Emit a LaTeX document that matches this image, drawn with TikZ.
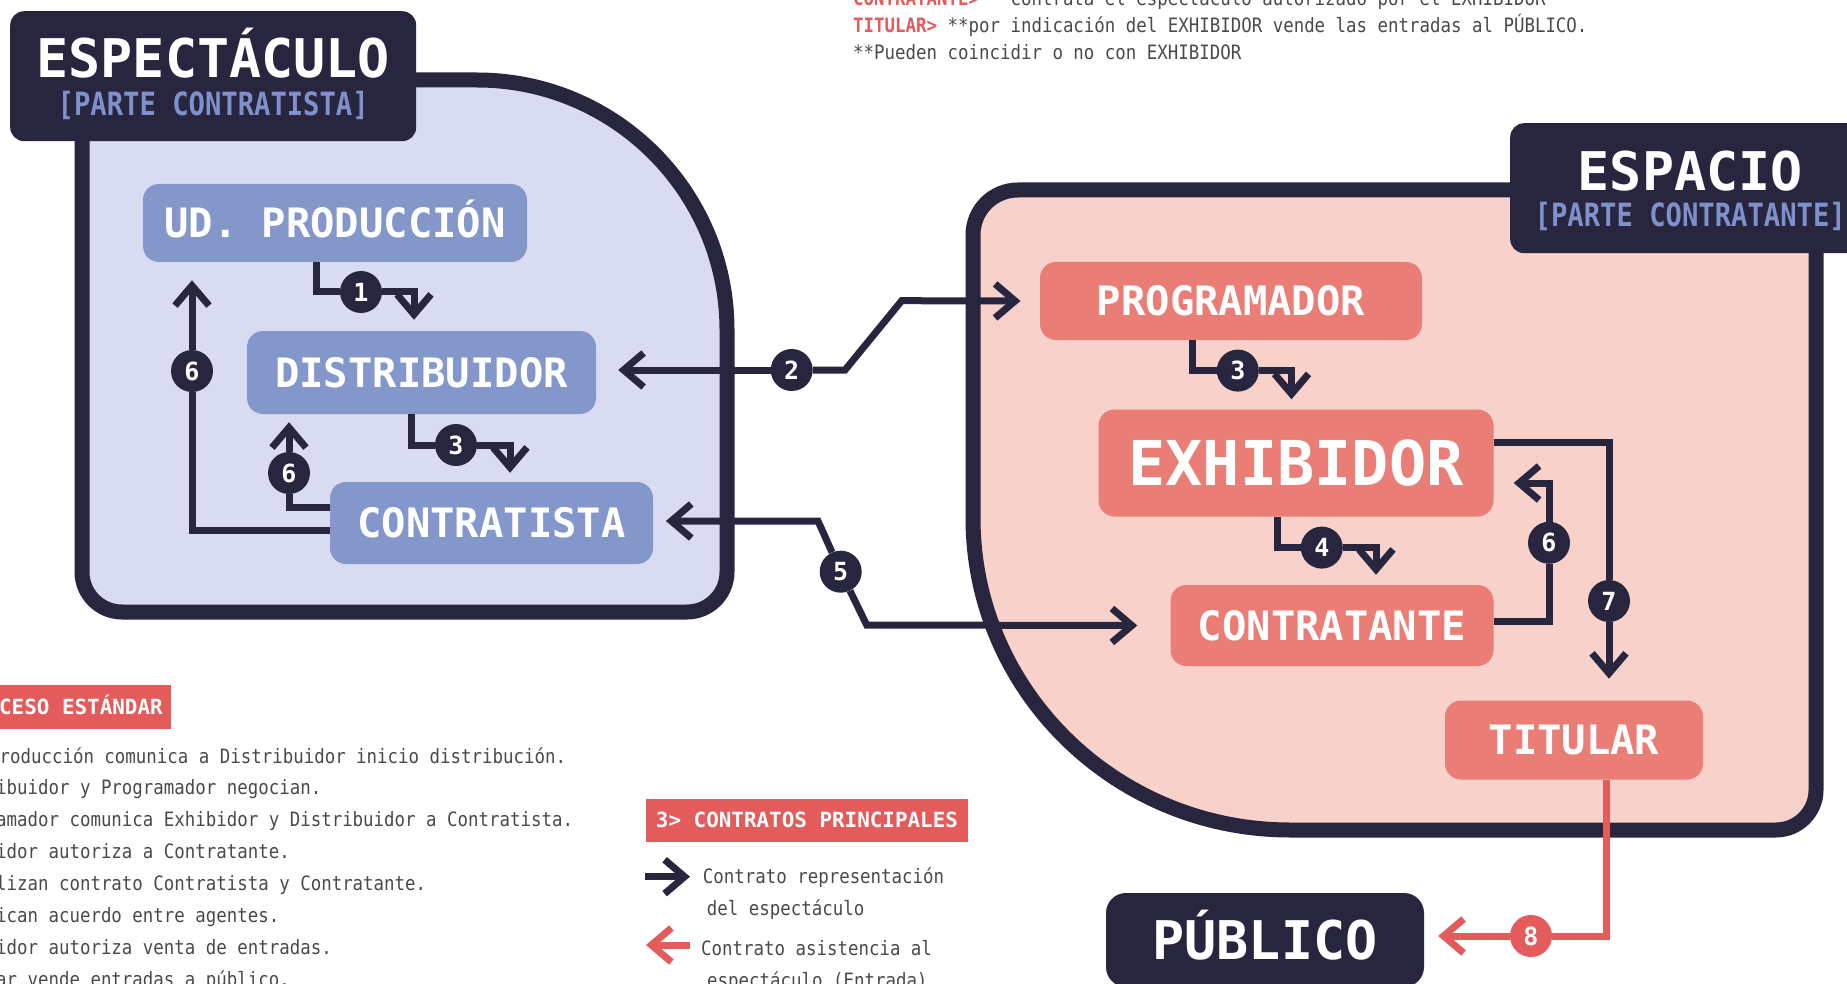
\documentclass[tikz,border=0pt]{standalone}
\usepackage{fontspec}
\usetikzlibrary{positioning,arrows.meta}
\setmainfont{DejaVu Sans Mono}
\newfontfamily\monob{DejaVu Sans Mono}
\newfontfamily\monon[FakeStretch=0.88]{DejaVu Sans Mono}
\newfontfamily\monos[FakeStretch=0.85]{DejaVu Sans Mono}
\definecolor{cNavy}{HTML}{28263F}
\definecolor{cLila}{HTML}{D9DBF0}
\definecolor{cLbox}{HTML}{8497CB}
\definecolor{cPink}{HTML}{F7D1CA}
\definecolor{cRbox}{HTML}{EA7D75}
\definecolor{cCoral}{HTML}{E45B5B}
\definecolor{cSub}{HTML}{7F91CC}
\definecolor{cTxt}{HTML}{4A4A4A}
\newcommand\fBox{\monob\bfseries\fontsize{40.5}{40.5}\selectfont}
\newcommand\fBig{\monob\bfseries\fontsize{61.8}{61.8}\selectfont}
\newcommand\fTitle{\monob\bfseries\fontsize{53.3}{53.3}\selectfont}
\newcommand\fSub{\monos\bfseries\fontsize{32}{32}\selectfont}
\newcommand\fNum{\monob\bfseries\fontsize{25}{25}\selectfont}
\newcommand\fHead{\monob\bfseries\fontsize{20.9}{20.9}\selectfont}
\newcommand\fTxt{\monon\fontsize{19.8}{32}\selectfont}
\tikzset{
  chev/.tip   = {Straight Barb[length=20pt,width=34pt,sharp]},
  panel/.style = {draw=cNavy, line width=15pt},
  tag/.style   = {rectangle, fill=cNavy, rounded corners=14pt, inner sep=0pt,
                  minimum height=130pt},
  lbox/.style  = {rectangle, fill=cLbox, rounded corners=16pt, inner sep=0pt,
                  text=white, font=\fBox, text height=29.5pt, text depth=0pt},
  rbox/.style  = {lbox, fill=cRbox},
  num/.style   = {circle, fill=cNavy, minimum size=42pt, inner sep=0pt,
                  text=white, font=\fNum},
  arr/.style   = {-chev, line width=7pt, draw=cNavy},
  head/.style  = {rectangle, fill=cCoral, inner sep=0pt, text=white,
                  font=\fHead, text height=15pt, text depth=0pt},
  note/.style  = {inner sep=0pt, text=cTxt, font=\fTxt, anchor=base west},
  ttl/.style   = {inner sep=0pt, text=white, font=\fTitle, anchor=base},
  sub/.style   = {inner sep=0pt, text=cSub, font=\fSub, anchor=base}
}
\begin{document}
\begin{tikzpicture}[x=1pt,y=-1pt]
  \path[use as bounding box, fill=white] (0,0) rectangle (1847,984);
  \clip (0,0) rectangle (1847,984);
  % paneles
  \filldraw[panel, fill=cLila] (477,80) .. controls (615,80) and (727,192) .. (727,330)
    -- (727,572) .. controls (727,594) and (709,612) .. (687,612)
    -- (122,612) .. controls (100,612) and (82,594) .. (82,572) -- (82,80) -- cycle;
  \filldraw[panel, fill=cPink] (1018,190) -- (1816,190)
    -- (1816,790) .. controls (1816,812) and (1798,830) .. (1776,830)
    -- (1290,830) .. controls (1115,830) and (973,690) .. (973,518)
    -- (973,235) .. controls (973,210) and (993,190) .. (1018,190) -- cycle;
  \node[tag, minimum width=406pt, anchor=north west] (espectaculo) at (10,11) {};
  \node[ttl] (espT) at ([yshift=-67pt]espectaculo.north) {ESPECTÁCULO};
  \node[sub] (espS) at ([yshift=-105pt]espectaculo.north) {[PARTE CONTRATISTA]};
  \node[tag, minimum width=360pt, anchor=north west] (espacio) at (1510,123) {};
  \node[ttl] (spcT) at ([yshift=-68pt]espacio.north) {ESPACIO};
  \node[sub] (spcS) at ([yshift=-104pt]espacio.north) {[PARTE CONTRATANTE]};
  % agentes
  \node[lbox, minimum width=384pt, minimum height=78pt] (ud) at (335,223) {UD. PRODUCCIÓN};
  \node[lbox, minimum width=349pt, minimum height=83pt] (dist) at (421.5,372.5) {DISTRIBUIDOR};
  \node[lbox, minimum width=323pt, minimum height=82pt] (ctista) at (491.5,523) {CONTRATISTA};
  \node[rbox, minimum width=382pt, minimum height=78pt] (prog) at (1231,301) {PROGRAMADOR};
  \node[rbox, minimum width=395pt, minimum height=107pt, font=\fBig,
        text height=45pt] (exhib) at (1296,463) {EXHIBIDOR};
  \node[rbox, minimum width=323pt, minimum height=81pt] (ctante) at (1332,625.5) {CONTRATANTE};
  \node[rbox, minimum width=258pt, minimum height=79pt] (titular) at (1574,740) {TITULAR};
  \node[tag, minimum width=318pt, minimum height=94pt, rounded corners=20pt, text=white,
        font=\fTitle, text height=38.5pt, text depth=0pt] (publico) at (1265,940) {PÚBLICO};
  % pasos
  \node[num] (b1) at (361,292) {1};
  \node[num] (b3a) at (456,445) {3};
  \node[num] (b6a) at (192,371) {6};
  \node[num] (b6b) at (289,473) {6};
  \node[num] (b2) at (791.7,370) {2};
  \node[num] (b5) at (840.7,571.7) {5};
  \node[num] (b3b) at (1237.8,370.6) {3};
  \node[num] (b4) at (1321.8,547.6) {4};
  \node[num] (b6c) at (1549,542.8) {6};
  \node[num] (b7) at (1609,601) {7};
  \node[num, fill=cCoral] (b8) at (1531,936) {8};
  \coordinate (k2a) at (845,370);
  \coordinate (k2b) at (901.7,300.7);
  \coordinate (k5a) at (818,521);
  \coordinate (k5b) at (866.7,625);
  \draw[arr] ([xshift=-19pt]ud.south) |- (b1) -| ([xshift=-7.5pt,yshift=11pt]dist.north);
  \draw[arr] ([xshift=-10.5pt]dist.south) |- (b3a) -| ([xshift=18.5pt,yshift=9pt]ctista.north);
  \draw[arr] ([yshift=-7pt]ctista.west) -| (b6a) -- ([xshift=-143pt,yshift=-18pt]ud.south);
  \draw[arr] ([yshift=16pt]ctista.west) -| (b6b) -- ([xshift=-132.5pt,yshift=-8pt]dist.south);
  \draw[arr] (b2) -- ([xshift=22pt,yshift=2.5pt]dist.east);
  \draw[arr] (b2) -- (k2a) -- (k2b) -- ([xshift=-19.3pt]prog.west);
  \draw[arr] (b5) -- (k5a) -- ([xshift=12.7pt,yshift=2pt]ctista.east);
  \draw[arr] (b5) -- (k5b) -- ([xshift=-33pt]ctante.west);
  \draw[arr] ([xshift=-39pt]prog.south) |- (b3b) -| ([xshift=-4.5pt,yshift=10pt]exhib.north);
  \draw[arr] ([xshift=-19pt]exhib.south) |- (b4) -| ([xshift=44pt,yshift=10pt]ctante.north);
  \draw[arr] ([yshift=4pt]ctante.east) -| (b6c) |- ([xshift=20pt,yshift=-20pt]exhib.east);
  \draw[arr] ([yshift=21pt]exhib.east) -| (b7) -- ([xshift=35pt,yshift=21.6pt]titular.north);
  \draw[arr, draw=cCoral] ([xshift=32pt]titular.south) |- (b8)
    -- ([xshift=14pt,yshift=4pt]publico.east);
  % notas
  \node[note] (n0) at (853,6) {\textcolor{cCoral}{\bfseries CONTRATANTE>} **contrata el espectáculo autorizado por el EXHIBIDOR};
  \node[note] (n1) at (853,33) {\textcolor{cCoral}{\bfseries TITULAR>} **por indicación del EXHIBIDOR vende las entradas al PÚBLICO.};
  \node[note] (n2) at (853,60) {**Pueden coincidir o no con EXHIBIDOR};
  \node[head, minimum width=256pt, minimum height=44pt, anchor=north west] (h2) at (-85,685) {2> PROCESO ESTÁNDAR};
  \foreach \t [count=\i] in {Ud. Producción comunica a Distribuidor inicio distribución.,
      Distribuidor y Programador negocian.,
      Programador comunica Exhibidor y Distribuidor a Contratista.,
      Exhibidor autoriza a Contratante.,
      Formalizan contrato Contratista y Contratante.,
      Comunican acuerdo entre agentes.,
      Exhibidor autoriza venta de entradas.,
      Titular vende entradas a público.}
    \node[note] (l\i) at (-88,731.1+31.9*\i) {\i> \t};
  \node[head, minimum width=322.5pt, minimum height=43pt, anchor=north west] (h3) at (645.5,798.7) {3> CONTRATOS PRINCIPALES};
  \coordinate (ka) at (645,876.7);
  \coordinate (kb) at (690,876.7);
  \coordinate (kc) at (690,945);
  \coordinate (kd) at (646,945);
  \draw[arr] (ka) -- (kb);
  \draw[arr, draw=cCoral] (kc) -- (kd);
  \node[note] (leg1a) at (702.7,883) {Contrato representación};
  \node[note] (leg1b) at (706.7,915) {del espectáculo};
  \node[note] (leg2a) at (701,955) {Contrato asistencia al};
  \node[note] (leg2b) at (707,987) {espectáculo (Entrada)};
\end{tikzpicture}
\end{document}
